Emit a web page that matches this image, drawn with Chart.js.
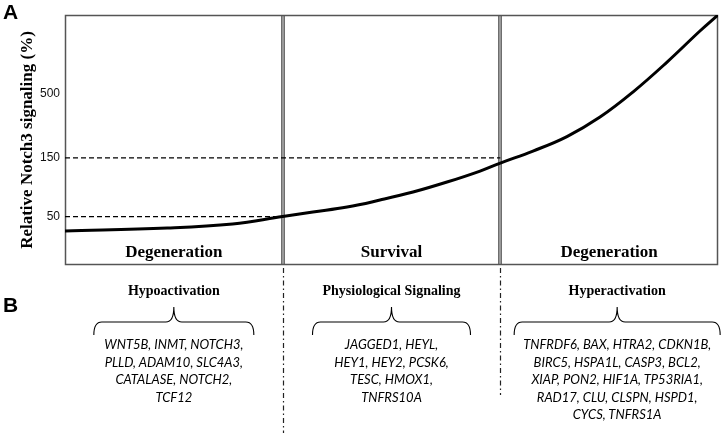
<!DOCTYPE html>
<html>
<head>
<meta charset="utf-8">
<script src="https://cdn.jsdelivr.net/npm/chart.js@4"></script>
<style>
  html, body { margin: 0; padding: 0; background: #fff; }
  #wrap { position: relative; width: 726px; height: 433px; overflow: hidden; }
  canvas { position: absolute; left: 0; top: 0; }
  .lbl { position: absolute; white-space: nowrap; color: #000; }
  .panel { font: bold 21px 'Liberation Sans', Arial, sans-serif; }
  .phase { font: bold 17px 'Liberation Serif', serif; transform: translate(-50%, -50%); }
  .act { font: bold 14px 'Liberation Serif', serif; transform: translate(-50%, -50%); }
  .genes { font: italic 13px Lato, sans-serif; line-height: 17.5px; text-align: center; transform: translateX(-50%); }
</style>
</head>
<body>
<div id="wrap">
  <canvas id="notch" width="726" height="433"></canvas>
</div>
<script>
// panel A: Notch3 signaling curve across three phases
const phases = ['Degeneration', 'Survival', 'Degeneration'];
const curveX = [0, 0.47, 0.77, 1.0, 1.139, 1.296, 1.447, 1.599, 1.755, 1.907, 2.0, 2.15, 2.306, 2.458, 2.609, 2.766, 2.917, 3.0];
const curveY = [38.1, 40.3, 43.5, 50, 54.4, 59.7, 68.1, 79.1, 95.4, 117.2, 136.1, 170.4, 223.5, 322, 514, 901, 1611, 2174];
const yTicks = [50, 150, 500];
const thresholds = [50, 150];
const thresholdEnds = [1, 2];
const dividers = [1, 2];

// panel B: gene groups
const activation = ['Hypoactivation', 'Physiological Signaling', 'Hyperactivation'];
const genes = [
  ['WNT5B', 'INMT', 'NOTCH3', 'PLLD', 'ADAM10', 'SLC4A3', 'CATALASE', 'NOTCH2', 'TCF12'],
  ['JAGGED1', 'HEYL', 'HEY1', 'HEY2', 'PCSK6', 'TESC', 'HMOX1', 'TNFRS10A'],
  ['TNFRDF6', 'BAX', 'HTRA2', 'CDKN1B', 'BIRC5', 'HSPA1L', 'CASP3', 'BCL2', 'XIAP', 'PON2',
   'HIF1A', 'TP53RIA1', 'RAD17', 'CLU', 'CLSPN', 'HSPD1', 'CYCS', 'TNFRS1A']
];
const perLine = [[3, 3, 2, 1], [2, 3, 2, 1], [4, 4, 4, 4, 2]];

// layout bits (not data)
const braceHalf = [80, 79, 103];
const braceShift = [0, 0, 8];
const dashDotEnd = [433, 395];

const frame = {
  id: 'frame',
  beforeDatasetsDraw(chart) {
    const { ctx, chartArea: a, scales: { x } } = chart;
    ctx.save();
    // phase dividers (double grey line)
    dividers.forEach(d => {
      const px = Math.round(x.getPixelForValue(d));
      ctx.fillStyle = '#6e6e6e';
      ctx.fillRect(px - 2, a.top, 4, a.bottom - a.top);
      ctx.fillStyle = '#c4c4c4';
      ctx.fillRect(px - 0.5, a.top, 1, a.bottom - a.top);
    });
    ctx.strokeStyle = '#555';
    ctx.lineWidth = 1.5;
    ctx.strokeRect(a.left + 0.5, a.top + 0.5, a.right - a.left - 1, a.bottom - a.top - 1);
    ctx.restore();
  },
  afterDraw(chart) {
    const { ctx, chartArea: a, scales: { x } } = chart;
    ctx.save();
    // dash-dot continuation of dividers
    ctx.strokeStyle = '#222';
    ctx.lineWidth = 1.2;
    ctx.setLineDash([5, 3, 1.5, 3]);
    dividers.forEach((d, i) => {
      const px = Math.round(x.getPixelForValue(d)) + 0.5;
      ctx.beginPath();
      ctx.moveTo(px, a.bottom + 3);
      ctx.lineTo(px, dashDotEnd[i]);
      ctx.stroke();
    });
    // braces
    ctx.setLineDash([]);
    ctx.lineWidth = 1.1;
    ctx.strokeStyle = '#000';
    phases.forEach((p, i) => {
      const c = x.getPixelForValue(i + 0.5) + braceShift[i];
      const L = c - braceHalf[i], R = c + braceHalf[i], y = 322;
      ctx.beginPath();
      ctx.moveTo(L, 335);
      ctx.quadraticCurveTo(L, y, L + 8, y);
      ctx.lineTo(c - 8, y);
      ctx.quadraticCurveTo(c, y, c, 307);
      ctx.quadraticCurveTo(c, y, c + 8, y);
      ctx.lineTo(R - 8, y);
      ctx.quadraticCurveTo(R, y, R, 335);
      ctx.stroke();
    });
    ctx.restore();
  }
};

const datasets = [{
  data: curveX.map((v, i) => ({ x: v, y: curveY[i] })),
  borderColor: '#000',
  borderWidth: 3,
  pointRadius: 0,
  tension: 0.4
}];
thresholds.forEach((t, i) => {
  datasets.push({
    data: [{ x: 0, y: t }, { x: thresholdEnds[i], y: t }],
    borderColor: '#000',
    borderWidth: 1.2,
    borderDash: [5, 3],
    pointRadius: 0
  });
});

const chart = new Chart(document.getElementById('notch'), {
  type: 'line',
  data: { datasets },
  options: {
    responsive: false,
    animation: false,
    events: [],
    layout: { padding: { left: 0, top: 15, right: 8, bottom: 168 } },
    plugins: { legend: { display: false }, tooltip: { enabled: false } },
    scales: {
      x: { type: 'linear', min: 0, max: 3, display: false },
      y: {
        type: 'logarithmic',
        min: 20.2,
        max: 2174,
        afterBuildTicks: s => { s.ticks = yTicks.map(v => ({ value: v })); },
        afterFit: s => { s.width = 65; },
        grid: { display: false, drawTicks: false },
        border: { display: false },
        ticks: {
          color: '#111',
          autoSkip: false,
          padding: 5,
          font: { family: 'Liberation Sans', size: 12 },
          callback: v => String(v)
        },
        title: {
          display: true,
          text: 'Relative Notch3 signaling (%)',
          color: '#000',
          font: { family: 'Liberation Serif', size: 17, weight: 'bold' },
          padding: { top: 17, bottom: 0 }
        }
      }
    }
  },
  plugins: [frame]
});

// text labels placed with the chart's own x scale
const wrap = document.getElementById('wrap');
function addLabel(cls, text, left, top) {
  const el = document.createElement('div');
  el.className = 'lbl ' + cls;
  el.innerHTML = text;
  el.style.left = left + 'px';
  el.style.top = top + 'px';
  wrap.appendChild(el);
}
addLabel('panel', 'A', 3, 0);
addLabel('panel', 'B', 3, 293);
const xs = chart.scales.x;
const bottom = chart.chartArea.bottom;
phases.forEach((p, i) => {
  const c = xs.getPixelForValue(i + 0.5);
  addLabel('phase', p, c, bottom - 13);
  addLabel('act', activation[i], c + braceShift[i], 291);
  const lines = [];
  let k = 0;
  perLine[i].forEach(n => {
    const part = genes[i].slice(k, k + n);
    k += n;
    lines.push(part.join(', ') + (k < genes[i].length ? ',' : ''));
  });
  addLabel('genes', lines.join('<br>'), c + braceShift[i], 336);
});
</script>
</body>
</html>
